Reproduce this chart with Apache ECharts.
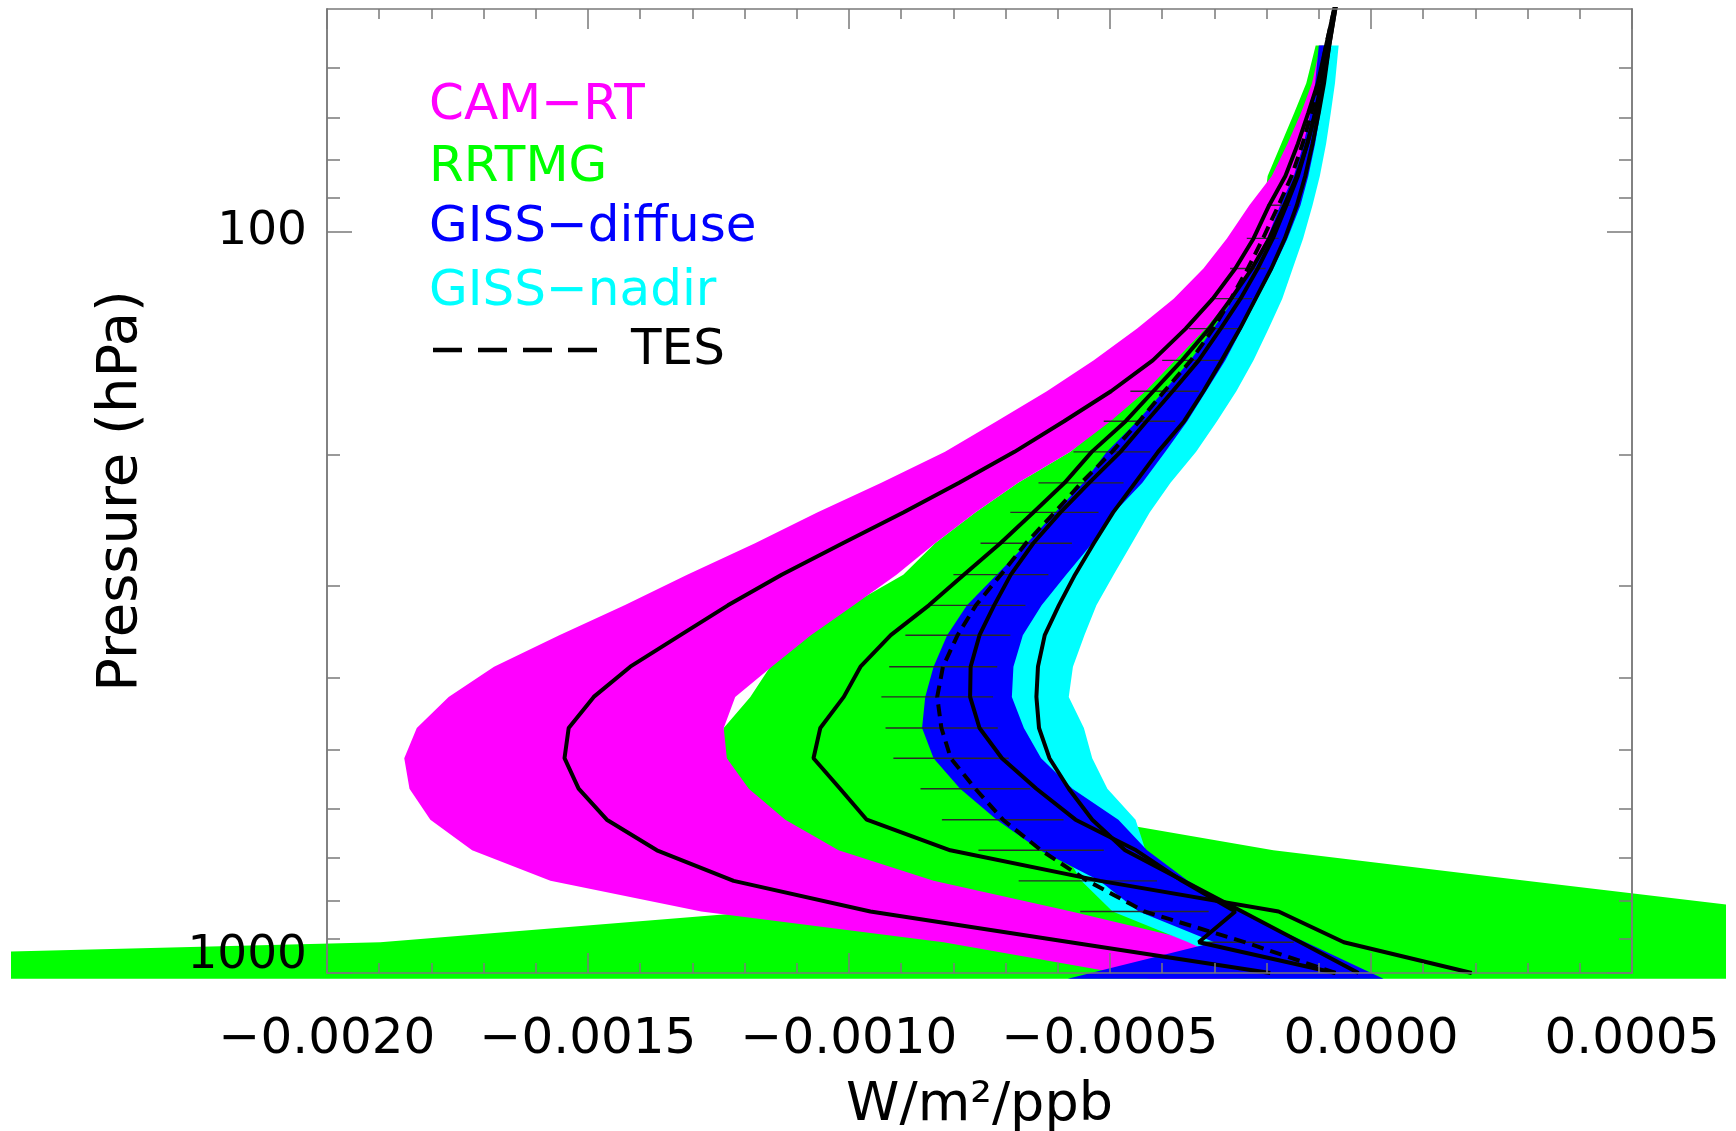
<!DOCTYPE html>
<html>
<head>
<meta charset="utf-8">
<title>Ozone radiative kernel profiles</title>
<script src="https://cdn.jsdelivr.net/npm/echarts@6/dist/echarts.min.js"></script>
<style>
  html, body { margin: 0; padding: 0; background: #fff; }
  #chart { width: 1736px; height: 1131px; }
</style>
</head>
<body>
<div id="chart"></div>
<script>
// pressure levels (hPa); the last one sits above the plot top so the lines run into the frame
var LEVELS = [1000, 909, 826, 751, 683, 621, 564, 513, 467, 424, 386, 350, 319, 290, 263, 239,
    218, 198, 180, 164, 149, 135, 123, 112, 102, 92, 84, 76, 69, 63, 56, 47];
// the shaded ranges start a bit below 1000 hPa (surface)
var BAND_LEVELS = [1018, 909, 826, 751, 683, 621, 564, 513, 467, 424, 386, 350, 319, 290, 263, 239,
    218, 198, 180, 164, 149, 135, 123, 112, 102, 92, 84, 76, 69, 63, 56];

// all x values below are in units of 1e-4 W/m2/ppb
var UNIT = 1e-4;

// CAM-RT range
var camLow  = [-4.23, -8.19, -12.83, -15.72, -17.22, -18.02, -18.42, -18.52, -18.28, -17.67, -16.80, -15.55, -14.30, -13.10, -11.80, -10.61,
    -9.38, -8.16, -7.17, -6.21, -5.31, -4.48, -3.78, -3.21, -2.76, -2.33, -1.90, -1.60, -1.34, -1.13, -0.97];
var camHigh = [-2.69, -3.27, -5.74, -8.38, -10.20, -11.22, -11.92, -12.34, -12.40, -12.18, -11.48, -10.73, -9.91, -9.09, -8.35, -7.58,
    -6.76, -5.76, -4.99, -4.32, -3.75, -3.17, -2.69, -2.31, -1.97, -1.68, -1.43, -1.24, -1.09, -0.95, -0.86];
// RRTMG range
var rrtmgLow  = [-47.0, -18.98, -11.70, -9.00, -10.60, -11.60, -12.20, -12.45, -12.40, -11.89, -11.51, -10.87, -9.98, -8.96, -8.35, -7.58,
    -6.76, -5.76, -5.05, -4.40, -3.85, -3.25, -2.75, -2.40, -2.15, -2.05, -1.98, -1.72, -1.47, -1.24, -1.06];
var rrtmgHigh = [18.8, 12.9, 7.94, 2.97, -1.87, -5.25, -6.50, -7.00, -7.30, -7.40, -7.30, -7.10, -6.80, -6.40, -6.00, -5.60,
    -5.10, -4.60, -4.10, -3.70, -3.30, -2.90, -2.55, -2.20, -1.90, -1.60, -1.40, -1.20, -1.05, -0.95, -0.88];
// GISS-diffuse range
var diffLow  = [-5.81, -3.00, -4.45, -5.20, -6.34, -7.17, -7.87, -8.38, -8.60, -8.54, -8.38, -8.12, -7.74, -7.17, -6.59, -6.05,
    -5.51, -5.06, -4.48, -3.97, -3.46, -3.02, -2.63, -2.31, -1.99, -1.74, -1.48, -1.29, -1.16, -1.07, -1.00];
var diffHigh = [0.24, -1.25, -2.50, -3.51, -4.29, -4.84, -5.72, -6.32, -6.65, -6.88, -6.85, -6.67, -6.31, -5.84, -5.34, -4.92,
    -4.38, -3.94, -3.52, -3.16, -2.79, -2.47, -2.18, -1.87, -1.60, -1.35, -1.20, -1.07, -0.97, -0.91, -0.87];
// GISS-nadir range
var nadirLow  = [-2.00, -3.50, -4.95, -5.55, -5.90, -6.60, -7.20, -7.60, -7.80, -7.80, -7.60, -7.30, -6.90, -6.40, -5.90, -5.45,
    -4.95, -4.50, -4.00, -3.55, -3.10, -2.72, -2.38, -2.07, -1.80, -1.55, -1.35, -1.18, -1.07, -1.00, -0.93];
var nadirHigh = [-0.60, -1.55, -2.70, -3.65, -4.32, -4.51, -5.05, -5.34, -5.50, -5.79, -5.71, -5.49, -5.26, -4.93, -4.58, -4.24,
    -3.84, -3.35, -2.95, -2.58, -2.25, -1.96, -1.70, -1.50, -1.30, -1.12, -0.98, -0.86, -0.77, -0.69, -0.62];

// mean profiles (black lines)
var camMean   = [-1.93, -5.76, -9.59, -12.21, -13.68, -14.64, -15.18, -15.45, -15.37, -14.89, -14.19, -13.23, -12.32, -11.29, -10.12, -8.96,
    -7.89, -6.83, -5.88, -4.98, -4.18, -3.55, -3.03, -2.60, -2.25, -1.95, -1.64, -1.40, -1.20, -1.02, -0.86, -0.62];
var rrtmgMean = [1.93, -0.52, -1.77, -5.19, -8.06, -9.66, -10.17, -10.68, -10.55, -10.10, -9.78, -9.20, -8.47, -7.80, -7.10, -6.47,
    -5.87, -5.35, -4.70, -4.17, -3.62, -3.10, -2.68, -2.28, -1.95, -1.66, -1.42, -1.22, -1.06, -0.92, -0.80, -0.62];
var diffMean  = [-0.68, -3.30, -2.60, -3.62, -4.50, -5.66, -6.41, -7.07, -7.50, -7.68, -7.67, -7.50, -7.22, -6.90, -6.47, -5.95,
    -5.40, -4.80, -4.30, -3.80, -3.30, -2.88, -2.50, -2.17, -1.88, -1.62, -1.40, -1.22, -1.07, -0.95, -0.84, -0.62];
var nadirMean = [-0.24, -1.35, -2.47, -3.59, -4.71, -5.34, -5.79, -6.16, -6.36, -6.41, -6.38, -6.25, -5.98, -5.67, -5.31, -4.94,
    -4.52, -4.08, -3.58, -3.21, -2.86, -2.51, -2.21, -1.91, -1.65, -1.42, -1.26, -1.12, -1.00, -0.90, -0.80, -0.62];
var tes       = [-0.68, -2.41, -4.34, -5.43, -6.32, -7.05, -7.58, -8.05, -8.23, -8.31, -8.20, -7.92, -7.57, -7.09, -6.61, -6.06,
    -5.55, -4.96, -4.44, -3.96, -3.45, -3.02, -2.68, -2.36, -2.07, -1.77, -1.52, -1.31, -1.14, -1.00, -0.86, -0.62];
// TES error bars (no bar at the surface level)
var tesLow  = [null, -3.27, -5.57, -6.75, -7.52, -8.22, -8.63, -9.15, -9.30, -9.38, -9.23, -8.92, -8.51, -8.00, -7.48, -6.91,
    -6.37, -5.70, -5.12, -4.61, -4.00, -3.49, -3.08, -2.70, -2.38, -1.99];
var tesHigh = [null, -1.48, -3.11, -4.10, -5.12, -5.89, -6.53, -6.94, -7.15, -7.24, -7.16, -6.91, -6.62, -6.18, -5.73, -5.22,
    -4.74, -4.23, -3.75, -3.30, -2.88, -2.54, -2.28, -2.02, -1.77, -1.54];

var FONT = "'DejaVu Sans', sans-serif";
var AXIS_COLOR = '#7a7a7a';

function bandSeries(name, color, low, high) {
    return {
        name: name,
        type: 'custom',
        clip: false,
        silent: true,
        data: [[low[0] * UNIT, BAND_LEVELS[0]]],
        renderItem: function (params, api) {
            var pts = [];
            for (var i = 0; i < low.length; i++) {
                pts.push(api.coord([low[i] * UNIT, BAND_LEVELS[i]]));
            }
            for (var j = high.length - 1; j >= 0; j--) {
                pts.push(api.coord([high[j] * UNIT, BAND_LEVELS[j]]));
            }
            return {
                type: 'polygon',
                shape: { points: pts },
                style: { fill: color },
                // the figure keeps a small white margin round the canvas
                clipPath: { type: 'rect', shape: { x: 11, y: 0, width: 1715, height: 1131 } }
            };
        }
    };
}

function lineSeries(name, values, dashed) {
    var data = [];
    for (var i = 0; i < values.length; i++) {
        data.push([values[i] * UNIT, LEVELS[i]]);
    }
    return {
        name: name,
        type: 'line',
        data: data,
        symbol: 'none',
        showSymbol: false,
        silent: true,
        z: 5,
        lineStyle: { color: '#000', width: 4, type: dashed ? [12, 7] : 'solid' }
    };
}

var barData = [];
for (var i = 0; i < tesLow.length; i++) {
    if (tesLow[i] === null) continue;
    barData.push([tesLow[i] * UNIT, tesHigh[i] * UNIT, LEVELS[i]]);
}

function xAxisBase(pos) {
    return {
        type: 'value',
        position: pos,
        z: 10,
        min: -0.002,
        max: 0.0005,
        interval: 0.0005,
        axisLine: { show: true, onZero: false, lineStyle: { color: AXIS_COLOR, width: 1.5 } },
        axisTick: { show: true, inside: true, length: 20, lineStyle: { color: AXIS_COLOR, width: 1.5 } },
        minorTick: { show: true, splitNumber: 5, length: 10, lineStyle: { color: AXIS_COLOR, width: 1.5 } },
        splitLine: { show: false },
        minorSplitLine: { show: false },
        axisLabel: { show: false }
    };
}

function yAxisBase(pos, ticks, len) {
    return {
        type: 'log',
        logBase: 10,
        position: pos,
        z: 10,
        min: 50,
        max: 1000,
        inverse: true,
        axisLine: { show: true, onZero: false, lineStyle: { color: AXIS_COLOR, width: 1.5 } },
        axisTick: { show: true, inside: true, length: len, customValues: ticks, lineStyle: { color: AXIS_COLOR, width: 1.5 } },
        minorTick: { show: false },
        splitLine: { show: false },
        axisLabel: { show: false }
    };
}

var MAJOR_P = [100, 1000];
var MINOR_P = [60, 70, 80, 90, 200, 300, 400, 500, 600, 700, 800, 900];

var xBottom = xAxisBase('bottom');
xBottom.axisLabel = {
    show: true,
    margin: 42,
    color: '#000',
    fontFamily: FONT,
    fontSize: 50,
    lineHeight: 50,
    formatter: function (v) {
        if (Math.abs(v) < 1e-12) v = 0;
        return v.toFixed(4).replace('-', '\u2212');
    }
};
xBottom.name = 'W/m\u00b2/ppb';
xBottom.nameLocation = 'middle';
xBottom.nameGap = 106;
xBottom.nameTextStyle = { color: '#000', fontFamily: FONT, fontSize: 54, lineHeight: 54 };

var yLeft = yAxisBase('left', MAJOR_P, 25);
yLeft.axisLabel = {
    show: true,
    customValues: MAJOR_P,
    margin: 20,
    color: '#000',
    fontFamily: FONT,
    fontSize: 47,
    formatter: function (v) {
        return Math.round(v) === 1000 ? '{low|1000}' : String(Math.round(v));
    },
    rich: {
        low: { color: '#000', fontFamily: FONT, fontSize: 47, padding: [0, 0, 34, 0] }
    }
};
yLeft.name = 'Pressure (hPa)';
yLeft.nameLocation = 'middle';
yLeft.nameRotate = 90;
yLeft.nameGap = 178;
yLeft.nameTextStyle = { color: '#000', fontFamily: FONT, fontSize: 56, lineHeight: 56 };

var legendX = 429;
var legendItems = [
    { text: 'CAM\u2212RT', color: '#ff00ff', y: 106 },
    { text: 'RRTMG', color: '#00ff00', y: 168 },
    { text: 'GISS\u2212diffuse', color: '#0000ff', y: 228 },
    { text: 'GISS\u2212nadir', color: '#00ffff', y: 292 }
];
var graphics = legendItems.map(function (it) {
    return {
        type: 'text',
        x: legendX,
        y: it.y,
        z: 10,
        style: { text: it.text, fill: it.color, font: '50px ' + FONT, verticalAlign: 'middle', textVerticalAlign: 'middle' }
    };
});
graphics.push({
    type: 'line', z: 10,
    shape: { x1: 433, y1: 350, x2: 597, y2: 350 },
    style: { stroke: '#000', lineWidth: 4.5, lineDash: [29, 16] }
});
graphics.push({
    type: 'text', x: 631, y: 351, z: 10,
    style: { text: 'TES', fill: '#000', font: '50px ' + FONT, verticalAlign: 'middle', textVerticalAlign: 'middle' }
});

var option = {
    animation: false,
    backgroundColor: '#fff',
    grid: { left: 327, top: 9, right: 104, bottom: 158, containLabel: false, outerBoundsMode: 'none' },
    xAxis: [xBottom, xAxisBase('top')],
    yAxis: [
        yLeft,
        yAxisBase('left', MINOR_P, 13),
        yAxisBase('right', MAJOR_P, 25),
        yAxisBase('right', MINOR_P, 13)
    ],
    graphic: graphics,
    series: [
        bandSeries('RRTMG', '#00ff00', rrtmgLow, rrtmgHigh),
        bandSeries('CAM-RT', '#ff00ff', camLow, camHigh),
        bandSeries('GISS-nadir', '#00ffff', nadirLow, nadirHigh),
        bandSeries('GISS-diffuse', '#0000ff', diffLow, diffHigh),
        {
            name: 'TES range',
            type: 'custom',
            silent: true,
            z: 4,
            encode: { x: [0, 1], y: 2 },
            data: barData,
            renderItem: function (params, api) {
                var a = api.coord([api.value(0), api.value(2)]);
                var b = api.coord([api.value(1), api.value(2)]);
                return {
                    type: 'line',
                    shape: { x1: a[0], y1: a[1], x2: b[0], y2: b[1] },
                    style: { stroke: '#2a2a2a', lineWidth: 1.4 }
                };
            }
        },
        lineSeries('CAM-RT mean', camMean, false),
        lineSeries('RRTMG mean', rrtmgMean, false),
        lineSeries('GISS-diffuse mean', diffMean, false),
        lineSeries('GISS-nadir mean', nadirMean, false),
        lineSeries('TES', tes, true)
    ]
};

var chart = echarts.init(document.getElementById('chart'));
chart.setOption(option);
</script>
</body>
</html>
